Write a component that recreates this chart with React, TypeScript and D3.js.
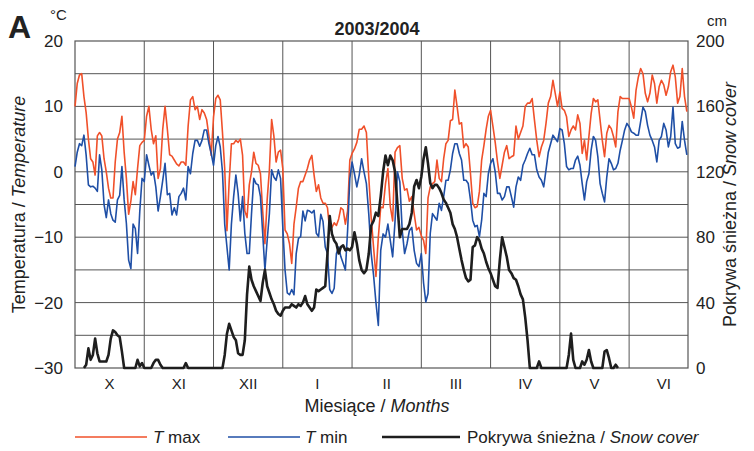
import * as d3 from "d3";

// month labels and lengths (Oct 2003 - Jun 2004)
const months = ["X", "XI", "XII", "I", "II", "III", "IV", "V", "VI"];
const monthDays = [31, 30, 31, 31, 29, 31, 30, 31, 30];

// daily maximum temperature, °C
const tmax = [
  10, 13.5, 14.8, 15, 11.5, 9, 5, 2, 1.5, -0.5, 5.5, 6, 5.5, 2, 0, -2.5, -4, -4, 1.5, 5, 6, 8.5, 3, -1, -6.5, -4.5, -1.5, -3.5, 0.5, 4, 4.5,
  4.8, 8.5, 10, 6.5, 4.3, 5.5, -1, 0.5, 6.5, 10, 6.5, 2.6, 2.4, 1.8, 1.2, 0.9, 1.5, 1.5, 1, 7, 11, 11.5, 9.5, 10, 8, 9.5, 9, 8, 5.5, 2.5,
  8.4, 11.2, 11.7, 11, 6, 0.5, -9, -1.5, 4.3, 4.3, 4.8, 4.5, 5, 2.5, -6, -7, -2, 0, 3, 1.3, 1, -0.3, -6, -11, -4.3, 0.3, 8, 5.5, 1.5, 3, 3.3,
  0.5, -8.9, -9.5, -11, -14, -8, -5.4, -2.5, -1.5, -1.5, -0.5, 0.5, 1.8, 2.5, -0.5, -3, -2, -4, -4.8, -4.8, -5.5, -9, -8.5, -7.8, -8.2, -7.2, -5.5, -5.8, -8, -6, 1.8,
  2.8, 3.5, 4.5, 6.5, 6.5, 7, 6, -0.8, -7, -11.5, -16, -10, -5.4, -5.5, -1.8, 0.5, -5.3, -7.5, 3, 3.7, 4, -1, -2.8, -2.6, -4.5, -3.8, -6.4, -8.9, -8.5,
  -9.8, -10.5, -12.5, -4, -2.3, -1.8, -1.5, 1.8, -1, -1.5, 2, 4.3, 4.8, 7.8, 8, 12.5, 10, 7.3, 7.5, 3.7, 4.3, 3.8, -0.3, -4.8, -5.5, -5.3, -3, 1.8, 4, 6.5, 8.5,
  9.4, 7, 4.5, 1.5, -1, 1, 3, 4, 2, 2.3, 2.5, 7, 5, 6, 7, 10, 10.5, 10.5, 11.2, 7.9, 4.8, 2.3, 3.8, 4.8, 7.4, 10.5, 11.5, 14, 12, 10,
  12.2, 9.7, 9.4, 8.4, 5.4, 6.4, 7, 6.4, 8.7, 7.4, 2.8, 4.8, 1.8, 5.4, 8.9, 11.2, 10.7, 11, 7.9, 4.8, 2.3, 5.9, 7.1, 6.6, 5.4, 3.8, 9.2, 11.5, 11.2, 11.2, 11.2,
  11.2, 9.9, 8.2, 12.5, 14.5, 15.8, 15, 12, 10.7, 12, 14.8, 13.5, 10.5, 13, 14, 13.3, 11.7, 13, 15.3, 16.3, 14.5, 10.5, 11.5, 15.8, 11.5, 9.2,
];

// daily minimum temperature, °C
const tmin = [
  0.8, 3, 4.3, 4, 5.6, 2.5, -2, -2.3, -2.2, -2.5, -3, 2.6, 0.3, -5, -7, -4.3, -6.4, -7.4, -7.7, -4.3, -3.6, 0.8, -4.3, -7.9, -13.5, -14.8, -8, -8.7, -12.5, -6, -1,
  -1.5, 2.6, 1, -0.5, 0, -2.3, -6, -3.8, -1.3, 1.3, -3.5, -3.3, -6.6, -5.5, -6.6, -3.8, -3.3, -2.5, -4.3, 0.8, -0.3, 2.8, 4.8, 4.8, 3.9, 4.8, 6.4, 6.4, 4.3, 2.8,
  1, 4, 5.4, 3.8, 0, -8, -11.5, -15, -8, -3.8, -0.5, -3.3, -7.5, -3.8, -9.4, -12.5, -12.5, -6.4, -1, -1.8, -2, -3.8, -9.4, -15, -10.5, -6.4, 0.3, -0.8, -1.3, 0.3, -1,
  -8.5, -15, -18.5, -18.8, -18, -18.8, -12.5, -10.2, -9.9, -6, -7.5, -5.9, -6, -6.3, -5.9, -9.4, -9.9, -6.5, -7.6, -11.5, -12.5, -18, -18.6, -17.8, -12.5, -11.5, -13, -14, -15, -9, -1,
  1.5, -0.3, -2.3, -0.5, 2, 0, -1.8, -6.5, -12.5, -15.8, -20, -23.5, -12, -9.5, -10, -8, -10.5, -13, -7.5, 0, -1.5, -9, -12.5, -11, -9, -8.5, -12, -14, -14.5,
  -12.5, -17, -19.9, -18.6, -9.4, -6.4, -6.9, -7.4, -4.8, -5.9, -3.8, -1.3, -1.3, 0.3, 2.8, 4.3, 4.3, 2.8, 1.8, -1.3, -1.3, -1.8, -4.3, -7.4, -8.4, -8.2, -9.9, -7.4, -3.3, -3.8, -0.3,
  1.3, 2, 0, -3.3, -3.3, -4.3, -3.8, -2.3, -2.3, -3.8, -5.4, -2.3, -0.8, -1.3, 1, 1.8, 2.8, 3.6, 2.6, 2.6, 0.3, -0.8, -1.3, -2.3, 0.3, 3, 4.3, 5.6, 5.1, 4.6,
  6.6, 6.4, 4.3, 0.8, 0.3, 0.5, 0.5, 1.8, 2.4, 1, -1.8, -4.3, -1.5, -0.3, 3.3, 5.4, 4.8, 2.3, -1.8, -3.3, -4.6, -0.8, 2, 1.3, 0.3, 0.5, 1.3, 3.3, 4.8, 6.4, 7.4,
  6.9, 6.1, 5.9, 5.6, 5.6, 7.7, 9.9, 9.2, 7.1, 5.6, 4.8, 3.8, 1.5, 4.8, 5.4, 7.4, 6.4, 3.8, 5.4, 9.9, 4.3, 3.6, 3.8, 7.7, 4.8, 2.6,
];

// daily snow cover depth, cm (null = no record)
const snow: (number | null)[] = [
  null, null, null, null, 0, 2, 12, 5, 8, 18, 9, 4, 4, 4, 4, 8, 18, 23, 22, 20, 19, 10, 0, 0, 0, 0, 0, 0, 5, 1, 3,
  0, 0, 0, 0, 3, 5, 5, 2, 0, 0, 0, 0, 0, 0, 0, 0, 0, 0, 3, 0, 0, 0, 0, 0, 0, 0, 0, 0, 0, 0,
  0, 0, 0, 0, 0, 8, 21, 27, 23, 19, 17, 9, 8, 8, 17, 45, 62, 54, 50, 47, 44, 41, 52, 60, 50, 46, 42, 39, 35, 33, 32,
  35, 37, 37, 37, 39, 38, 37, 39, 38, 40, 44, 39, 37, 35, 37, 48, 47, 48, 49, 50, 70, 93, 82, 78, 76, 70, 74, 75, 72, 73, 72,
  74, 83, 76, 66, 60, 58, 60, 70, 87, 90, 95, 93, 105, 120, 130, 124, 130, 127, 120, 100, 80, 85, 85, 85, 88, 95, 111, 115, 110,
  117, 128, 135, 125, 113, 110, 112, 112, 110, 107, 103, 101, 98, 95, 88, 85, 80, 73, 66, 60, 55, 53, 54, 74, 75, 80, 78, 73, 70, 65, 61,
  58, 54, 50, 49, 66, 80, 74, 68, 60, 58, 55, 54, 50, 45, 42, 31, 17, 0, 0, 0, 0, 4, 0, 0, 0, 0, 0, 0, 0, 0,
  0, 0, 0, 0, 8, 21, 5, 0, 0, 0, 4, 2, 5, 11, 4, 0, 0, 0, 0, 0, 10, 11, 6, 0, 0, 2, 0, null, null, null, null,
];

const tempTicks = [20, 10, 0, -10, -20, -30];
const snowTicks = [0, 40, 80, 120, 160, 200];

// position of a day index in "months" (each month the same width)
const monthPos = (i: number) => {
  let m = 0;
  let d = i;
  while (m < monthDays.length - 1 && d >= monthDays[m]) {
    d -= monthDays[m];
    m++;
  }
  return m + d / monthDays[m];
};

const W = 754;
const H = 451;
const left = 75;
const right = 688;
const top = 41;
const bottom = 368;
const font = "'Liberation Sans', Arial, sans-serif";

export default function App() {
  const x = d3.scaleLinear().domain([0, 8.85]).range([left, right]);
  const yT = d3.scaleLinear().domain([-30, 20]).range([bottom, top]);
  const yS = d3.scaleLinear().domain([0, 200]).range([bottom, top]);

  const tLine = d3
    .line<number>()
    .x((_, i) => x(monthPos(i)))
    .y((d) => yT(d));
  const sLine = d3
    .line<number | null>()
    .defined((d) => d !== null)
    .x((_, i) => x(monthPos(i)))
    .y((d) => yS(d as number));

  const grid = d3.range(-25, 20, 5);
  const monthLines = d3.range(1, months.length);

  return (
    <svg
      width={W}
      height={H}
      style={{ position: "absolute", left: 0, top: 0, background: "#fff" }}
      fontFamily={font}
    >
      {/* grid */}
      {grid.map((g) => (
        <line key={g} x1={left} x2={right} y1={yT(g)} y2={yT(g)} stroke="#555" strokeWidth={1} />
      ))}
      {monthLines.map((m) => (
        <line key={m} x1={x(m)} x2={x(m)} y1={top} y2={bottom} stroke="#555" strokeWidth={1} />
      ))}
      <rect x={left} y={top} width={right - left} height={bottom - top} fill="none" stroke="#555" strokeWidth={1.2} />

      {/* series */}
      <path d={tLine(tmax) ?? ""} fill="none" stroke="#f0502a" strokeWidth={1.6} strokeLinejoin="round" />
      <path d={tLine(tmin) ?? ""} fill="none" stroke="#1f4fa6" strokeWidth={1.6} strokeLinejoin="round" />
      <path d={sLine(snow) ?? ""} fill="none" stroke="#1e1e1e" strokeWidth={2.6} strokeLinejoin="round" />

      {/* left axis */}
      {tempTicks.map((t) => (
        <text key={t} x={63} y={yT(t) + 6} textAnchor="end" fontSize={17} fill="#222">
          {t < 0 ? `\u2212${-t}` : t}
        </text>
      ))}
      {/* right axis */}
      {snowTicks.map((s) => (
        <text key={s} x={696} y={yS(s) + 6} fontSize={17} fill="#222">
          {s}
        </text>
      ))}

      {/* month labels */}
      {months.map((m, i) => (
        <text key={m} x={x(i + 0.5)} y={389} textAnchor="middle" fontSize={15} fill="#222">
          {m}
        </text>
      ))}

      <text x={377} y={412} textAnchor="middle" fontSize={18} fill="#222">
        Miesiące / <tspan fontStyle="italic">Months</tspan>
      </text>

      <text transform={`translate(25,${(top + bottom) / 2}) rotate(-90)`} textAnchor="middle" fontSize={18} fill="#222">
        Temperatura / <tspan fontStyle="italic">Temperature</tspan>
      </text>
      <text transform={`translate(736,${(top + bottom) / 2}) rotate(-90)`} textAnchor="middle" fontSize={18} fill="#222">
        Pokrywa śnieżna / <tspan fontStyle="italic">Snow cover</tspan>
      </text>

      {/* titles */}
      <text x={8} y={38} fontSize={32} fontWeight="bold" fill="#222">A</text>
      <text x={50} y={20} fontSize={15} fill="#222">°C</text>
      <text x={707} y={26} fontSize={15} fill="#222">cm</text>
      <text x={377} y={35} textAnchor="middle" fontSize={18} fontWeight="bold" fill="#222">
        2003/2004
      </text>

      {/* legend */}
      <line x1={75} x2={147} y1={437} y2={437} stroke="#f0502a" strokeWidth={1.6} />
      <text x={153} y={443} fontSize={17} fill="#222">
        <tspan fontStyle="italic">T</tspan> max
      </text>
      <line x1={228} x2={300} y1={437} y2={437} stroke="#1f4fa6" strokeWidth={1.6} />
      <text x={305} y={443} fontSize={17} fill="#222">
        <tspan fontStyle="italic">T</tspan> min
      </text>
      <line x1={382} x2={460} y1={437} y2={437} stroke="#1e1e1e" strokeWidth={2.6} />
      <text x={467} y={443} fontSize={17} fill="#222">
        Pokrywa śnieżna / <tspan fontStyle="italic">Snow cover</tspan>
      </text>
    </svg>
  );
}
